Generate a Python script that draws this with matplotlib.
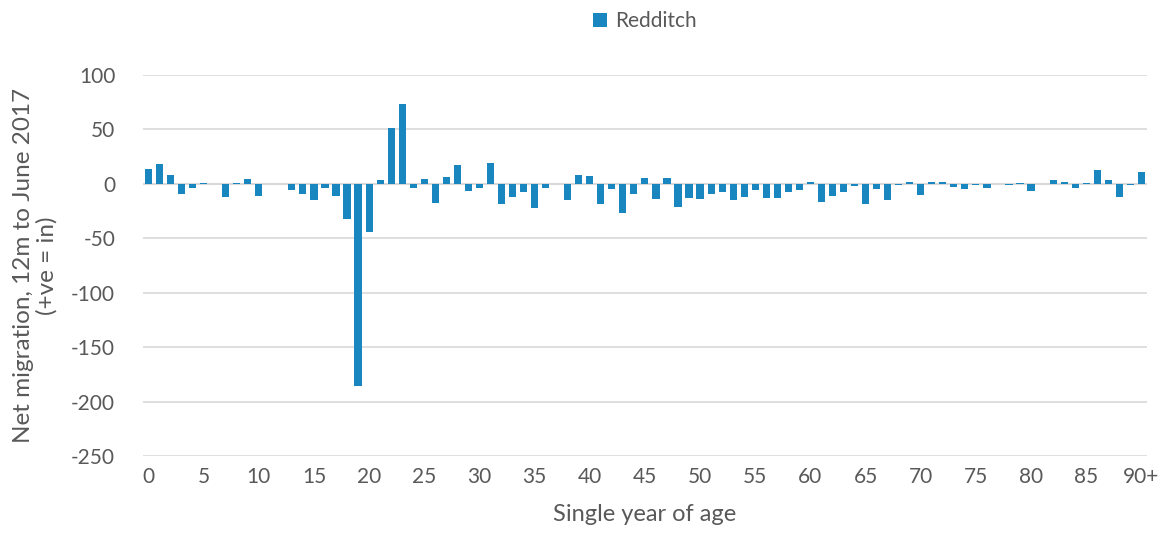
import numpy as np
import matplotlib.pyplot as plt

# Data: net migration by single year of age (Redditch)
ages = list(range(91))
net_migration = [
    14, 18, 8, -9, -4, 1, 0, -12, 1, 4,
    -11, 0, 0, -6, -9, -15, -4, -11, -32, -186,
    -44, 3, 51, 73, -4, 4, -18, 6, 17, -7,
    -4, 19, -19, -12, -8, -22, -4, 0, -15, 8,
    7, -19, -5, -27, -9, 5, -14, 5, -21, -13,
    -14, -9, -8, -15, -12, -6, -13, -13, -8, -6,
    2, -17, -11, -8, -2, -19, -5, -15, -1, 2,
    -10, 2, 2, -3, -5, -1, -4, 0, -1, 1,
    -7, 0, 3, 2, -4, 1, 13, 3, -12, -1,
    11,
]
tick_labels = ["0", "5", "10", "15", "20", "25", "30", "35", "40", "45",
               "50", "55", "60", "65", "70", "75", "80", "85", "90+"]
series_name = "Redditch"

BAR_COLOR = "#1a86c0"
GRID_COLOR = "#d9d9d9"
TEXT_COLOR = "#595959"

plt.rcParams["font.family"] = ["Lato", "DejaVu Sans"]
plt.rcParams["axes.unicode_minus"] = False

fig = plt.figure(figsize=(11.62, 5.38), dpi=100)
ax = fig.add_axes([0.123, 0.152, 0.864, 0.709])

ax.bar(ages, net_migration, width=0.65, color=BAR_COLOR, label=series_name, zorder=3)

ax.set_xlim(-0.5, 90.5)
ax.set_ylim(-250, 100)
ax.set_yticks(np.arange(-250, 101, 50))
ax.set_xticks(ages[::5])
ax.set_xticklabels(tick_labels)

ax.yaxis.grid(True, color=GRID_COLOR, linewidth=1.2, zorder=0)
ax.axhline(0, color=GRID_COLOR, linewidth=1.5, zorder=2)
for s in ax.spines.values():
    s.set_visible(False)
ax.tick_params(length=0, labelsize=15, colors=TEXT_COLOR)
ax.tick_params(axis="y", pad=20)
ax.tick_params(axis="x", pad=8)

ax.set_xlabel("Single year of age", fontsize=17, color=TEXT_COLOR, labelpad=12)
ax.set_ylabel("Net migration, 12m to June 2017\n(+ve = in)", fontsize=17.5,
              color=TEXT_COLOR, labelpad=10, linespacing=1.1)

leg = ax.legend(loc="center", bbox_to_anchor=(0.5, 1.14), frameon=False,
                fontsize=15, handlelength=0.7, handleheight=0.7, handletextpad=0.4)
for t in leg.get_texts():
    t.set_color(TEXT_COLOR)

fig.savefig("out.png", dpi=100)
